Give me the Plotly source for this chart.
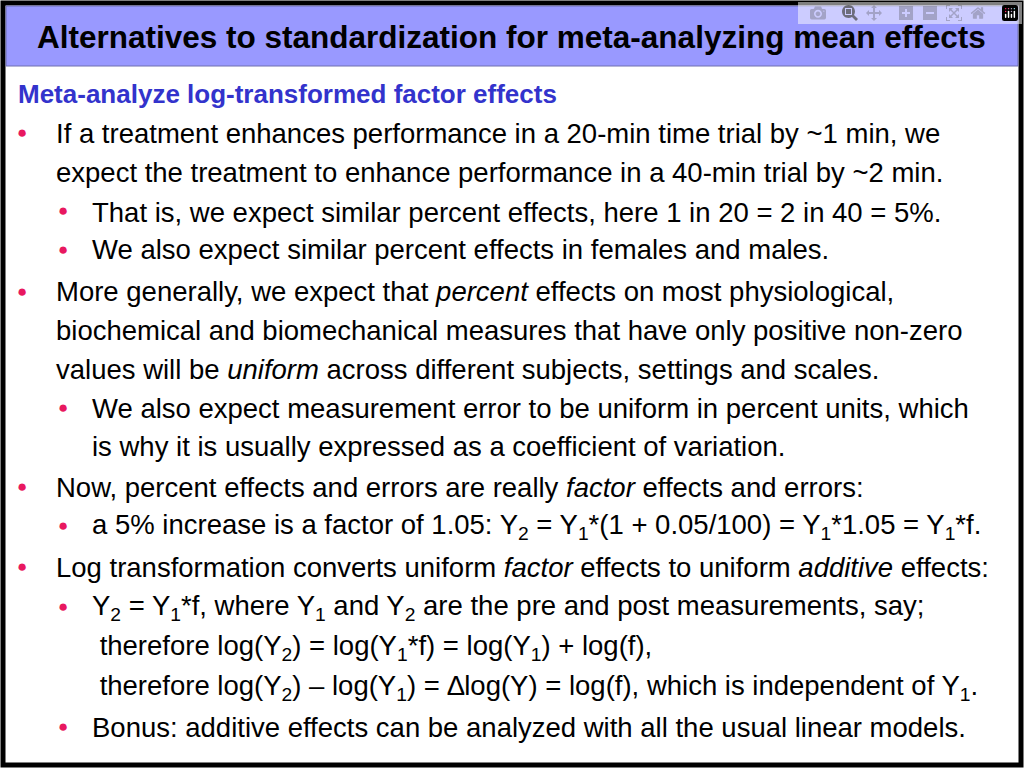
import plotly.graph_objects as go

W, H = 1024, 768
FONT = "Liberation Sans Narrow, Arial Narrow, Liberation Sans, sans-serif"

title = "Alternatives to standardization for meta-analyzing mean effects"
heading = "Meta-analyze log-transformed factor effects"

# (level, has_bullet, text, y)
lines = [
    (1, True, "If a treatment enhances performance in a 20-min time trial by ~1 min, we", 133),
    (1, False, "expect the treatment to enhance performance in a 40-min trial by ~2 min.", 172),
    (2, True, "That is, we expect similar percent effects, here 1 in 20 = 2 in 40 = 5%.", 212),
    (2, True, "We also expect similar percent effects in females and males.", 250),
    (1, True, "More generally, we expect that <i>percent</i> effects on most physiological,", 292),
    (1, False, "biochemical and biomechanical measures that have only positive non-zero", 330),
    (1, False, "values will be <i>uniform</i> across different subjects, settings and scales.", 369),
    (2, True, "We also expect measurement error to be uniform in percent units, which", 408),
    (2, False, "is why it is usually expressed as a coefficient of variation.", 446),
    (1, True, "Now, percent effects and errors are really <i>factor</i> effects and errors:", 487),
    (2, True, "a 5% increase is a factor of 1.05: Y<sub>2</sub> = Y<sub>1</sub>*(1 + 0.05/100) = Y<sub>1</sub>*1.05 = Y<sub>1</sub>*f.", 526),
    (1, True, "Log transformation converts uniform <i>factor</i> effects to uniform <i>additive</i> effects:", 567),
    (2, True, "Y<sub>2</sub> = Y<sub>1</sub>*f, where Y<sub>1</sub> and Y<sub>2</sub> are the pre and post measurements, say;", 607),
    (2, False, " therefore log(Y<sub>2</sub>) = log(Y<sub>1</sub>*f) = log(Y<sub>1</sub>) + log(f),", 647),
    (2, False, " therefore log(Y<sub>2</sub>) – log(Y<sub>1</sub>) = ∆log(Y) = log(f), which is independent of Y<sub>1</sub>.", 687),
    (2, True, "Bonus: additive effects can be analyzed with all the usual linear models.", 727),
]

def px(x):
    return x / W

def py(y):
    return 1 - y / H

fig = go.Figure()
shapes = [
    dict(type="rect", xref="paper", yref="paper", x0=px(3), x1=px(1021), y0=py(765), y1=py(3),
         line=dict(color="black", width=5), fillcolor="white", layer="below"),
    dict(type="rect", xref="paper", yref="paper", x0=px(6), x1=px(1018), y0=py(66), y1=py(6),
         line=dict(color="#6f6fb0", width=1), fillcolor="#9999ff", layer="below"),
]
ann = [
    dict(x=px(511), y=py(37), text="<b>" + title + "</b>", font=dict(size=31.5, color="black"), xanchor="center"),
    dict(x=px(16), y=py(94), text="<b>" + heading + "</b>", font=dict(size=26, color="#3333cc"), xanchor="left"),
]
for level, bullet, text, y in lines:
    bx = 22 if level == 1 else 63
    tx = 54 if level == 1 else 90
    if bullet:
        ann.append(dict(x=px(bx), y=py(y - 1), text="●", font=dict(size=17, color="#e8185f"), xanchor="center"))
    ann.append(dict(x=px(tx), y=py(y), text=text, font=dict(size=27.5, color="black"), xanchor="left"))

for a in ann:
    a.update(xref="paper", yref="paper", yanchor="middle", showarrow=False)

fig.update_layout(
    width=W, height=H, margin=dict(l=0, r=0, t=0, b=0),
    paper_bgcolor="white", plot_bgcolor="white",
    xaxis=dict(visible=False), yaxis=dict(visible=False),
    font=dict(family=FONT, size=27.5), shapes=shapes, annotations=ann,
)
fig.write_html("out.html", post_script="document.body.style.margin='0';document.body.style.overflow='hidden';")
